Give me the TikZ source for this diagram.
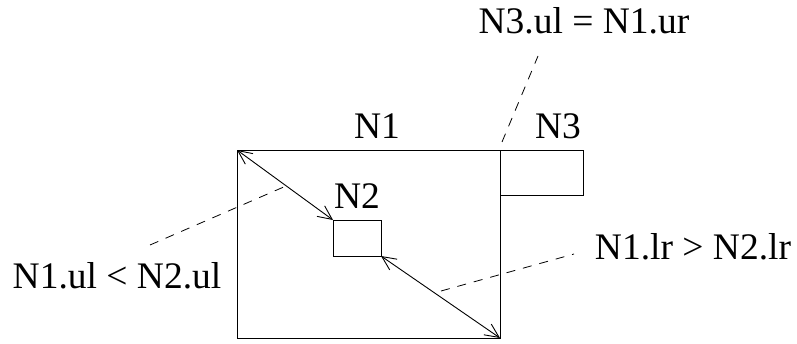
\documentclass[tikz,border=0pt]{standalone}
\usepackage{fontspec}
\setmainfont{Liberation Serif}
\usetikzlibrary{arrows.meta}
\begin{document}
\begin{tikzpicture}[x=1pt,y=-1pt,
  box/.style={draw, line width=0.9pt, inner sep=0pt, outer sep=0pt, anchor=north west},
  lbl/.style={inner sep=0pt, anchor=base, font=\fontsize{37.5}{40}\selectfont},
  dim/.style={line width=0.9pt, {Straight Barb[length=14pt,width=13pt]}-{Straight Barb[length=14pt,width=13pt]}},
  lead/.style={line width=0.8pt, dash pattern=on 9pt off 8pt}]
\useasboundingbox (0,0) rectangle (797,343);
\node[box, minimum width=263pt, minimum height=188pt] (n1) at (237,150) {};
\node[box, minimum width=48pt, minimum height=36pt] (n2) at (333,220) {};
\node[box, minimum width=83pt, minimum height=45pt] (n3) at (500,150) {};
\node[lbl] (t1) at (377,138) {N1};
\node[lbl] (t2) at (357,208) {N2};
\node[lbl] (t3) at (558,138) {N3};
\node[lbl] (q1) at (584,33) {N3.ul = N1.ur};
\node[lbl] (q2) at (117,288) {N1.ul < N2.ul};
\node[lbl] (q3) at (693,259) {N1.lr > N2.lr};
\draw[dim] (n1.north west) -- (n2.north west);
\draw[dim] (n2.south east) -- (n1.south east);
\coordinate (a1) at (502,142);
\coordinate (a2) at (538,56);
\coordinate (b1) at (150,245);
\coordinate (b2) at (286,186);
\coordinate (c1) at (441,291);
\coordinate (c2) at (574,254);
\draw[lead] (a1) -- (a2);
\draw[lead] (b1) -- (b2);
\draw[lead] (c1) -- (c2);
\end{tikzpicture}
\end{document}
